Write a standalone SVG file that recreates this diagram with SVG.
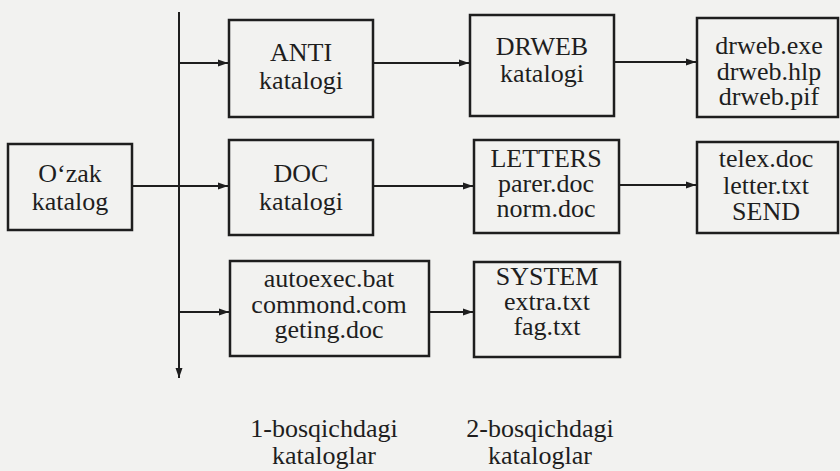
<svg xmlns="http://www.w3.org/2000/svg" width="840" height="471" viewBox="0 0 840 471">
<style>
.box{fill:none;stroke:#1e1e1e;stroke-width:2.5}
.ln{fill:none;stroke:#1e1e1e;stroke-width:2}
.t{font-family:'Liberation Serif','DejaVu Serif','Times New Roman',serif;font-size:26px;fill:#1e1e1e;text-anchor:middle}
</style>
<defs>
<marker id="ah" markerUnits="userSpaceOnUse" markerWidth="12" markerHeight="10" refX="10" refY="5" orient="auto">
<path d="M0,1.5 L10,5 L0,8.5 Z" fill="#1e1e1e"/>
</marker>
</defs>
<rect width="840" height="471" fill="#f2f2f0"/>
<g id="connectors">
<line class="ln" x1="179" y1="12" x2="179" y2="378" marker-end="url(#ah)"/>
<line class="ln" x1="179" y1="63" x2="228" y2="63" marker-end="url(#ah)"/>
<line class="ln" x1="132" y1="186" x2="228" y2="186" marker-end="url(#ah)"/>
<line class="ln" x1="179" y1="312" x2="229" y2="312" marker-end="url(#ah)"/>
<line class="ln" x1="373" y1="63" x2="469" y2="63" marker-end="url(#ah)"/>
<line class="ln" x1="373" y1="186" x2="473" y2="186" marker-end="url(#ah)"/>
<line class="ln" x1="429" y1="312" x2="473" y2="312" marker-end="url(#ah)"/>
<line class="ln" x1="614" y1="62" x2="696" y2="62" marker-end="url(#ah)"/>
<line class="ln" x1="619" y1="185" x2="696" y2="185" marker-end="url(#ah)"/>
</g>
<g id="ozak" class="t">
<rect class="box" x="8" y="144" width="124" height="86"/>
<text x="70" y="182">O‘zak</text>
<text x="70" y="210">katalog</text>
</g>
<g id="anti" class="t">
<rect class="box" x="229" y="20" width="144" height="97"/>
<text x="301" y="61">ANTI</text>
<text x="301" y="89">katalogi</text>
</g>
<g id="doc" class="t">
<rect class="box" x="229" y="140" width="144" height="95"/>
<text x="301" y="182">DOC</text>
<text x="301" y="210">katalogi</text>
</g>
<g id="autoexec" class="t">
<rect class="box" x="230" y="261" width="199" height="95"/>
<text x="329" y="287">autoexec.bat</text>
<text x="329" y="313">commond.com</text>
<text x="329" y="338">geting.doc</text>
</g>
<g id="drweb" class="t">
<rect class="box" x="470" y="15" width="144" height="101"/>
<text x="542" y="55">DRWEB</text>
<text x="542" y="82">katalogi</text>
</g>
<g id="letters" class="t">
<rect class="box" x="474" y="140" width="145" height="93"/>
<text x="546" y="167">LETTERS</text>
<text x="546" y="192">parer.doc</text>
<text x="546" y="217">norm.doc</text>
</g>
<g id="system" class="t">
<rect class="box" x="474" y="262" width="146" height="95"/>
<text x="547" y="285">SYSTEM</text>
<text x="547" y="310">extra.txt</text>
<text x="547" y="335">fag.txt</text>
</g>
<g id="drwebfiles" class="t">
<rect class="box" x="697" y="18" width="141" height="99"/>
<text x="769" y="54">drweb.exe</text>
<text x="769" y="80">drweb.hlp</text>
<text x="769" y="105">drweb.pif</text>
</g>
<g id="letterfiles" class="t">
<rect class="box" x="697" y="142" width="141" height="91"/>
<text x="766" y="167">telex.doc</text>
<text x="766" y="194">letter.txt</text>
<text x="766" y="220">SEND</text>
</g>
<g id="labels" class="t">
<text x="324" y="437">1-bosqichdagi</text>
<text x="324" y="464">kataloglar</text>
<text x="540" y="437">2-bosqichdagi</text>
<text x="540" y="464">kataloglar</text>
</g>
</svg>
